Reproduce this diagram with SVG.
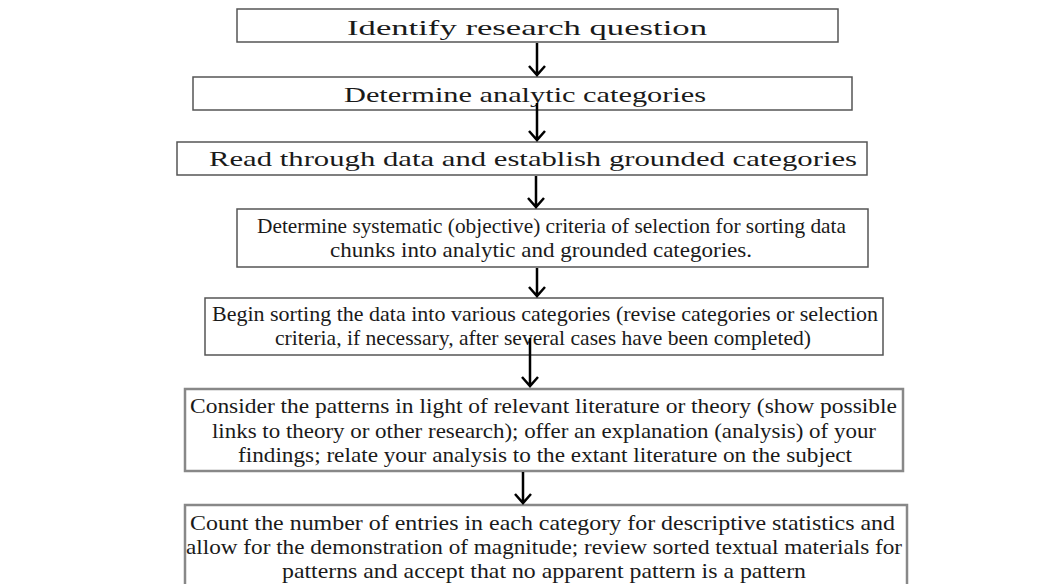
<svg xmlns="http://www.w3.org/2000/svg" width="1047" height="584" viewBox="0 0 1047 584">
<style>
.box{fill:#fff;stroke:#555;stroke-width:1.5}
.box2{fill:#fff;stroke:#888;stroke-width:2.5}
.t{font-family:"Liberation Serif","Times New Roman",serif;font-size:21px;fill:#1a1a1a;text-anchor:middle}
.ar{stroke:#000;stroke-width:2.5;fill:none}
</style>
<rect width="1047" height="584" fill="#fff"/>
<g id="n1"><rect class="box" x="237" y="9" width="601" height="33"/><text class="t" x="527" y="35" textLength="360" lengthAdjust="spacingAndGlyphs">Identify research question</text></g>
<g id="n2"><rect class="box" x="193" y="77" width="659" height="33"/><text class="t" x="525" y="102" textLength="362" lengthAdjust="spacingAndGlyphs">Determine analytic categories</text></g>
<g id="n3"><rect class="box" x="177" y="142" width="690" height="33"/><text class="t" x="533" y="166" textLength="648" lengthAdjust="spacingAndGlyphs">Read through data and establish grounded categories</text></g>
<g id="n4"><rect class="box" x="237" y="209" width="631" height="58"/><text class="t" x="551.5" y="233" textLength="589" lengthAdjust="spacingAndGlyphs">Determine systematic (objective) criteria of selection for sorting data</text><text class="t" x="541" y="257" textLength="422" lengthAdjust="spacingAndGlyphs">chunks into analytic and grounded categories.</text></g>
<g id="n5"><rect class="box" x="205" y="298" width="678" height="57"/><text class="t" x="545" y="321" textLength="666" lengthAdjust="spacingAndGlyphs">Begin sorting the data into various categories (revise categories or selection</text><text class="t" x="543" y="345" textLength="536" lengthAdjust="spacingAndGlyphs">criteria, if necessary, after several cases have been completed)</text></g>
<g id="n6"><rect class="box2" x="185" y="389" width="718" height="82"/><text class="t" x="543.5" y="413" textLength="707" lengthAdjust="spacingAndGlyphs">Consider the patterns in light of relevant literature or theory (show possible</text><text class="t" x="544" y="438" textLength="664" lengthAdjust="spacingAndGlyphs">links to theory or other research); offer an explanation (analysis) of your</text><text class="t" x="545" y="462" textLength="614" lengthAdjust="spacingAndGlyphs">findings; relate your analysis to the extant literature on the subject</text></g>
<g id="n7"><rect class="box2" x="185" y="505" width="722" height="90"/><text class="t" x="542.5" y="530" textLength="705" lengthAdjust="spacingAndGlyphs">Count the number of entries in each category for descriptive statistics and</text><text class="t" x="544" y="554" textLength="716" lengthAdjust="spacingAndGlyphs">allow for the demonstration of magnitude; review sorted textual materials for</text><text class="t" x="544" y="578" textLength="524" lengthAdjust="spacingAndGlyphs">patterns and accept that no apparent pattern is a pattern</text></g>
<g id="connectors">
<path class="ar" d="M537,43 V75 M529,66 L537,75 L545,66"/>
<path class="ar" d="M537,103 V140 M529,131 L537,140 L545,131"/>
<path class="ar" d="M536,176 V207 M528,198 L536,207 L544,198"/>
<path class="ar" d="M537,268 V296 M529,287 L537,296 L545,287"/>
<path class="ar" d="M530,338 V386 M522,377 L530,386 L538,377"/>
<path class="ar" d="M523,472 V503 M515,494 L523,503 L531,494"/>
</g>
</svg>
